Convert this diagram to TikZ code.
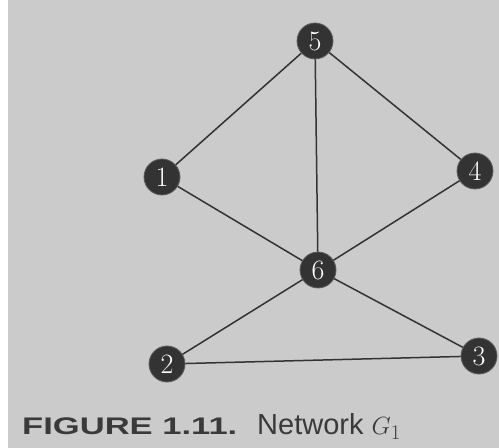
\documentclass[tikz,border=0pt]{standalone}
\usepackage{fontspec}
\setmainfont{Latin Modern Roman}
\setsansfont{Liberation Sans}
\definecolor{paper}{HTML}{CBCBCB}
\definecolor{ink}{HTML}{333333}
\definecolor{capink}{HTML}{3A3A3A}
\tikzset{
  vertex/.style={circle, fill=ink, draw=ink!80!white, line width=0.8pt,
    minimum size=36pt, inner sep=0pt, text=white,
    font=\fontsize{28}{28}\selectfont},
  edge/.style={draw=ink, line width=1.5pt},
}
\begin{document}
\begin{tikzpicture}[x=1pt,y=1pt]
  % page background with the pale strip on the left edge
  \fill[white] (0,0) rectangle (499,448);
  \fill[paper] (8,0) rectangle (499,448);
  \useasboundingbox (0,0) rectangle (499,448);

  % vertices
  \node[vertex] (n5) at (315,407) {5};
  \node[vertex] (n1) at (162,271) {1};
  \node[vertex] (n4) at (475,277) {4};
  \node[vertex] (n6) at (318,178) {6};
  \node[vertex] (n2) at (167,84) {2};
  \node[vertex] (n3) at (479,92) {3};

  % edges
  \path[edge] (n5) -- (n1);
  \path[edge] (n5) -- (n4);
  \path[edge] (n5) -- (n6);
  \path[edge] (n1) -- (n6);
  \path[edge] (n4) -- (n6);
  \path[edge] (n6) -- (n2);
  \path[edge] (n6) -- (n3);
  \path[edge] (n2) -- (n3);

  % caption
  \node[anchor=base west, inner sep=0pt, text=capink] (figlabel) at (22,13)
    {\scalebox{1.44}[1]{\sffamily\bfseries\fontsize{24}{24}\selectfont FIGURE 1.11.}};
  \node[anchor=base west, inner sep=0pt, text=capink] (figtitle) at (257,13)
    {\sffamily\fontsize{29}{29}\selectfont Network $G_1$};
\end{tikzpicture}
\end{document}
